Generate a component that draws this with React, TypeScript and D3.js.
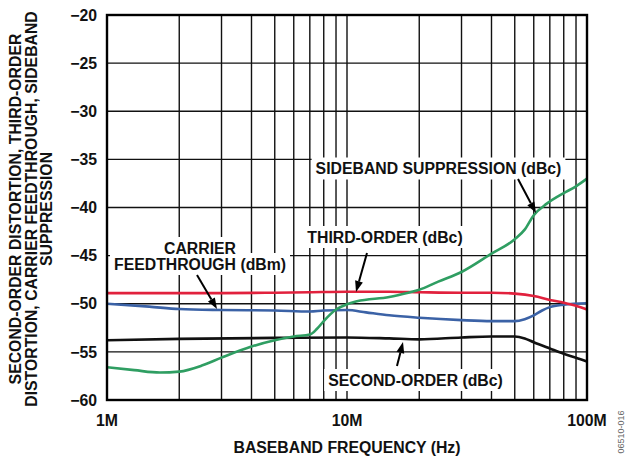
import React, { useEffect, useRef } from "react";
import * as d3 from "d3";

// ---- Data (frequency in MHz, level in dB) ----
const thirdFreq = [1, 2, 3, 5, 7, 10, 15, 20, 30, 40, 50, 60, 70, 80, 90, 100];
const thirdVals = [-48.9, -48.9, -48.9, -48.85, -48.8, -48.75, -48.75, -48.8, -48.85, -48.85, -48.95, -49.2, -49.6, -49.9, -50.2, -50.6];

const carrierFreq = [1, 1.5, 2, 3, 5, 7, 8, 10, 12, 15, 20, 30, 40, 50, 55, 60, 65, 70, 80, 100];
const carrierVals = [-50.0, -50.3, -50.55, -50.65, -50.7, -50.8, -50.7, -50.65, -50.9, -51.2, -51.45, -51.7, -51.8, -51.8, -51.6, -51.2, -50.7, -50.35, -50.1, -49.95];

const secondFreq = [1, 2, 5, 10, 15, 20, 30, 40, 50, 55, 60, 70, 80, 90, 100];
const secondVals = [-53.8, -53.65, -53.55, -53.5, -53.6, -53.7, -53.5, -53.4, -53.4, -53.6, -54.0, -54.65, -55.2, -55.6, -56.0];

const sidebandFreq = [1, 1.3, 1.66, 2, 2.5, 3, 4, 5, 6, 7, 7.5, 8, 9, 10, 11, 15, 18, 20, 24, 30, 40, 50, 55, 60, 68, 80, 90, 100];
const sidebandVals = [-56.6, -56.9, -57.15, -57.05, -56.4, -55.6, -54.45, -53.8, -53.4, -53.2, -52.6, -51.8, -50.6, -50.05, -49.75, -49.3, -48.85, -48.55, -47.7, -46.7, -44.8, -43.3, -42.3, -40.8, -39.6, -38.5, -37.8, -37.0];

const yTicks = [-20, -25, -30, -35, -40, -45, -50, -55, -60];
const xTicks = [1, 10, 100];
const xTickLabels = ["1M", "10M", "100M"];

const yTitleLines = [
  "SECOND-ORDER DISTORTION, THIRD-ORDER",
  "DISTORTION, CARRIER FEEDTHROUGH, SIDEBAND",
  "SUPPRESSION",
];
const xTitle = "BASEBAND FREQUENCY (Hz)";
const figCode = "06510-016";

const W = 626;
const H = 457;
const FONT = "'Liberation Sans', Arial, Helvetica, sans-serif";
const FS = 15.8;

export default function App() {
  const ref = useRef<SVGSVGElement | null>(null);

  useEffect(() => {
    const svg = d3.select(ref.current);
    svg.selectAll("*").remove();

    const x = d3.scaleLog().domain([1, 100]).range([107, 587]);
    const y = d3.scaleLinear().domain([-60, -20]).range([400, 15]);

    const gGrid = svg.append("g");
    const gBg = svg.append("g");
    const gCurves = svg.append("g");
    const gText = svg.append("g");

    // grid
    const vGrid: number[] = [];
    for (let dec = 1; dec < 100; dec *= 10) {
      for (let k = 2; k <= 10; k++) {
        const v = dec * k;
        if (v < 100) vGrid.push(v);
      }
    }
    gGrid
      .selectAll("line.v")
      .data(vGrid)
      .join("line")
      .attr("x1", (d) => x(d))
      .attr("x2", (d) => x(d))
      .attr("y1", y(-20))
      .attr("y2", y(-60))
      .attr("stroke", "#111")
      .attr("stroke-width", 1.4);
    gGrid
      .selectAll("line.h")
      .data(yTicks.filter((t) => t !== -20 && t !== -60))
      .join("line")
      .attr("x1", x(1))
      .attr("x2", x(100))
      .attr("y1", (d) => y(d))
      .attr("y2", (d) => y(d))
      .attr("stroke", "#111")
      .attr("stroke-width", 1.4);

    // curves
    const line = d3
      .line<[number, number]>()
      .x((d) => x(d[0]))
      .y((d) => y(d[1]))
      .curve(d3.curveMonotoneX);
    const series: { f: number[]; v: number[]; c: string }[] = [
      { f: secondFreq, v: secondVals, c: "#111111" },
      { f: carrierFreq, v: carrierVals, c: "#3b62a6" },
      { f: thirdFreq, v: thirdVals, c: "#e1213d" },
      { f: sidebandFreq, v: sidebandVals, c: "#2f9e62" },
    ];
    series.forEach((s) => {
      gCurves
        .append("path")
        .attr("d", line(s.f.map((f, i) => [f, s.v[i]] as [number, number])) as string)
        .attr("fill", "none")
        .attr("stroke", s.c)
        .attr("stroke-width", 2.6)
        .attr("stroke-linejoin", "round");
    });

    // labels with white background
    const labels: { t: string; cx: number; cy: number }[] = [
      { t: "SIDEBAND SUPPRESSION (dBc)", cx: 438.5, cy: 168.5 },
      { t: "THIRD-ORDER (dBc)", cx: 385, cy: 237 },
      { t: "CARRIER", cx: 200, cy: 248 },
      { t: "FEEDTHROUGH (dBm)", cx: 200, cy: 264 },
      { t: "SECOND-ORDER (dBc)", cx: 415.5, cy: 380 },
    ];
    labels.forEach((l) => {
      const t = gText
        .append("text")
        .attr("x", l.cx)
        .attr("y", l.cy + FS * 0.358)
        .attr("text-anchor", "middle")
        .attr("font-family", FONT)
        .attr("font-weight", "bold")
        .attr("font-size", FS)
        .attr("fill", "#111")
        .text(l.t);
      const bb = (t.node() as SVGTextElement).getBBox();
      gBg
        .append("rect")
        .attr("x", bb.x - 4)
        .attr("y", l.cy - 11)
        .attr("width", bb.width + 8)
        .attr("height", 22)
        .attr("fill", "#fff");
    });

    // arrows
    const arrows: [number, number, number, number][] = [
      [518, 179, 536, 213],
      [367, 253, 356, 292],
      [197, 275, 217, 309],
      [397, 366, 403, 342],
    ];
    arrows.forEach(([x1, y1, x2, y2]) => {
      const ang = Math.atan2(y2 - y1, x2 - x1);
      const hl = 11;
      const hw = 4;
      const bx = x2 - hl * Math.cos(ang);
      const by = y2 - hl * Math.sin(ang);
      gText
        .append("line")
        .attr("x1", x1)
        .attr("y1", y1)
        .attr("x2", bx)
        .attr("y2", by)
        .attr("stroke", "#000")
        .attr("stroke-width", 2);
      const px = -Math.sin(ang);
      const py = Math.cos(ang);
      gText
        .append("path")
        .attr(
          "d",
          `M${x2},${y2}L${bx + px * hw},${by + py * hw}L${bx - px * hw},${by - py * hw}Z`
        )
        .attr("fill", "#000");
    });

    // frame
    svg
      .append("rect")
      .attr("x", x(1))
      .attr("y", y(-20))
      .attr("width", x(100) - x(1))
      .attr("height", y(-60) - y(-20))
      .attr("fill", "none")
      .attr("stroke", "#000")
      .attr("stroke-width", 2.4);

    // y tick labels
    svg
      .append("g")
      .selectAll("text")
      .data(yTicks)
      .join("text")
      .attr("x", 97)
      .attr("y", (d) => y(d) + FS * 0.358)
      .attr("text-anchor", "end")
      .attr("font-family", FONT)
      .attr("font-weight", "bold")
      .attr("font-size", FS)
      .attr("fill", "#111")
      .text((d) => "\u2212" + Math.abs(d));

    // x tick labels
    svg
      .append("g")
      .selectAll("text")
      .data(xTicks)
      .join("text")
      .attr("x", (d) => x(d))
      .attr("y", 426)
      .attr("text-anchor", "middle")
      .attr("font-family", FONT)
      .attr("font-weight", "bold")
      .attr("font-size", FS)
      .attr("fill", "#111")
      .text((d, i) => xTickLabels[i]);

    // x title
    svg
      .append("text")
      .attr("x", 347)
      .attr("y", 453)
      .attr("text-anchor", "middle")
      .attr("font-family", FONT)
      .attr("font-weight", "bold")
      .attr("font-size", FS)
      .attr("fill", "#111")
      .text(xTitle);

    // y title
    const lineX = [15, 31, 46.5];
    yTitleLines.forEach((t, i) => {
      svg
        .append("text")
        .attr("transform", `translate(${lineX[i] + FS * 0.358},209) rotate(-90)`)
        .attr("text-anchor", "middle")
        .attr("font-family", FONT)
        .attr("font-weight", "bold")
        .attr("font-size", FS)
        .attr("fill", "#111")
        .text(t);
    });

    // figure code
    svg
      .append("text")
      .attr("transform", `translate(623.5,432) rotate(-90)`)
      .attr("text-anchor", "middle")
      .attr("font-family", FONT)
      .attr("font-size", 9)
      .attr("fill", "#666")
      .text(figCode);
  }, []);

  return (
    <svg
      ref={ref}
      width={W}
      height={H}
      style={{ position: "absolute", left: 0, top: 0, background: "#fff" }}
    />
  );
}
